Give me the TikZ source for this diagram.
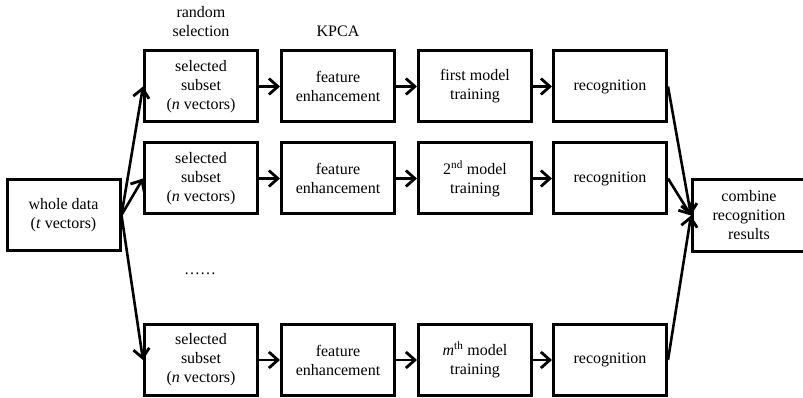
\documentclass[tikz,border=0pt]{standalone}
\usepackage{fontspec}
\setmainfont{Liberation Serif}
\usetikzlibrary{arrows.meta}
\begin{document}
\begin{tikzpicture}[x=1pt,y=-1pt,
  stage/.style={draw, line width=3pt, minimum width=113pt, minimum height=71pt,
    inner sep=0pt, align=center, font=\fontsize{16}{19}\selectfont},
  caption/.style={align=center, font=\fontsize{16}{19}\selectfont},
  flow/.style={line width=2.6pt, -{Straight Barb[length=9pt,width=16pt,line width=2.8pt]}}]
\useasboundingbox (0,0) rectangle (803,398);
\begin{scope}
\clip (0,0) rectangle (803,398);
% source data
\node[stage] (whole) at (63.5,215) {whole data\\(\textit{t} vectors)};

% branch 1
\node[stage] (s1) at (201,86.5) {selected\\subset\\(\textit{n} vectors)};
\node[stage] (f1) at (338,86.5) {feature\\enhancement};
\node[stage] (t1) at (475,86.5) {first model\\training};
\node[stage] (r1) at (610,86.5) {recognition};

% branch 2
\node[stage] (s2) at (201,178.5) {selected\\subset\\(\textit{n} vectors)};
\node[stage] (f2) at (338,178.5) {feature\\enhancement};
\node[stage] (t2) at (475,178.5) {2\textsuperscript{nd} model\\training};
\node[stage] (r2) at (610,178.5) {recognition};

% branch m
\node[stage] (s3) at (201,360) {selected\\subset\\(\textit{n} vectors)};
\node[stage] (f3) at (338,360) {feature\\enhancement};
\node[stage] (t3) at (475,360) {\textit{m}\textsuperscript{th} model\\training};
\node[stage] (r3) at (610,360) {recognition};

% fusion
\node[stage] (comb) at (749,215.5) {combine\\recognition\\results};

% column captions
\node[caption] (lblsel) at (201,22) {random\\selection};
\node[caption] (lblkpca) at (338,31) {KPCA};
\node[caption] (dots) at (200,274) {……};

% connectors
\foreach \k in {1,2,3} {
  \draw[flow] (whole.east) -- (s\k.west);
  \draw[flow] (s\k) -- (f\k);
  \draw[flow] (f\k) -- (t\k);
  \draw[flow] (t\k) -- (r\k);
  \draw[flow] (r\k.east) -- (comb.west);
}
\end{scope}
\end{tikzpicture}
\end{document}
